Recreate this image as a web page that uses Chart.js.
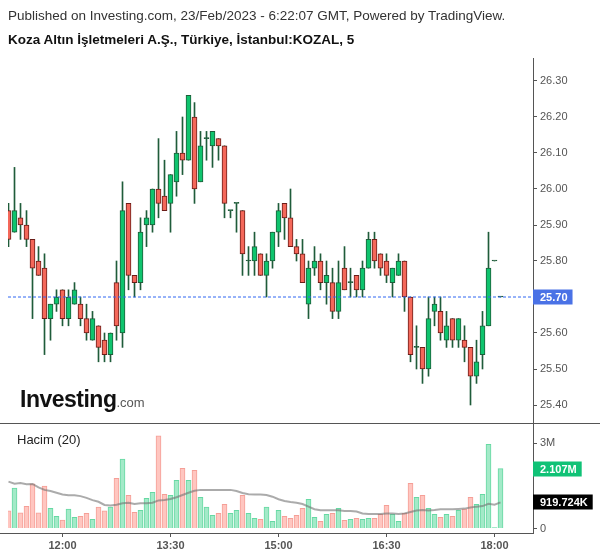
<!DOCTYPE html>
<html>
<head>
<meta charset="utf-8">
<script src="https://cdn.jsdelivr.net/npm/chart.js@4.4.0/dist/chart.umd.min.js"></script>
<style>
  html, body { margin: 0; padding: 0; background: #fff; }
  #wrap { position: relative; width: 600px; height: 558px; overflow: hidden; font-family: 'Liberation Sans', Arial, sans-serif; }
  #wrap canvas { position: absolute; left: 0; top: 0; }
  .txt { position: absolute; white-space: nowrap; z-index: 2; }
  #t1 { left: 8px; top: 8px; font-size: 13.5px; color: #333; }
  #t2 { left: 8px; top: 32px; font-size: 13.5px; font-weight: bold; color: #111; }
  #logo { left: 20px; top: 386px; font-size: 23px; font-weight: bold; color: #111; letter-spacing: -0.5px; }
  #logo span { font-size: 13px; font-weight: normal; color: #555; letter-spacing: 0; }
  #vol { left: 17px; top: 432px; font-size: 13px; color: #222; }
</style>
</head>
<body>
<div id="wrap">
  <canvas id="kozal" width="600" height="558"></canvas>
  <div class="txt" id="t1">Published on Investing.com, 23/Feb/2023 - 6:22:07 GMT, Powered by TradingView.</div>
  <div class="txt" id="t2">Koza Altın İşletmeleri A.Ş., Türkiye, İstanbul:KOZAL, 5</div>
  <div class="txt" id="logo">Investing<span>.com</span></div>
  <div class="txt" id="vol">Hacim (20)</div>
</div>
<script>
// 5-minute candles (bar 0 = 11:15)
const opens  = [25.94,25.88,25.92,25.90,25.86,25.80,25.78,25.64,25.68,25.72,25.64,25.68,25.68,25.64,25.58,25.62,25.58,25.54,25.74,25.60,
                25.96,25.76,25.74,25.90,25.90,26.00,25.98,25.96,26.02,26.10,26.08,26.20,26.02,26.14,26.12,26.14,26.12,25.94,25.96,25.94,
                25.80,25.80,25.82,25.76,25.80,25.88,25.96,25.92,25.84,25.82,25.68,25.78,25.80,25.74,25.74,25.66,25.78,25.74,25.76,25.72,
                25.78,25.86,25.82,25.80,25.74,25.76,25.80,25.70,25.56,25.56,25.50,25.66,25.66,25.58,25.64,25.58,25.58,25.56,25.48,25.54,
                25.62,25.80,25.70];
const highs  = [25.96,26.06,25.96,25.94,25.86,25.84,25.82,25.68,25.72,25.72,25.72,25.74,25.70,25.68,25.66,25.62,25.60,25.60,25.80,26.02,
                25.96,25.76,25.92,25.94,26.00,26.14,26.08,26.04,26.16,26.20,26.26,26.24,26.16,26.16,26.16,26.14,26.12,25.94,25.96,25.94,
                25.84,25.88,25.82,25.82,25.88,25.96,25.96,26.00,25.86,25.86,25.80,25.84,25.82,25.80,25.78,25.80,25.84,25.78,25.76,25.80,
                25.88,25.88,25.82,25.82,25.78,25.82,25.80,25.70,25.62,25.56,25.70,25.70,25.70,25.66,25.64,25.64,25.62,25.56,25.58,25.66,
                25.88,25.80,25.70];
const lows   = [25.84,25.88,25.86,25.84,25.64,25.76,25.54,25.58,25.66,25.62,25.62,25.68,25.62,25.58,25.58,25.52,25.52,25.52,25.58,25.56,
                25.72,25.70,25.72,25.84,25.88,25.92,25.94,25.88,25.98,26.04,26.08,25.96,26.02,26.08,26.06,26.08,25.92,25.92,25.88,25.76,
                25.76,25.76,25.76,25.70,25.78,25.84,25.86,25.84,25.80,25.74,25.64,25.76,25.72,25.68,25.64,25.64,25.72,25.70,25.70,25.70,
                25.78,25.78,25.76,25.74,25.70,25.76,25.66,25.52,25.50,25.46,25.48,25.62,25.58,25.56,25.56,25.56,25.52,25.40,25.46,25.50,
                25.62,25.80,25.70];
const closes = [25.86,25.94,25.90,25.86,25.78,25.76,25.64,25.68,25.70,25.64,25.70,25.72,25.64,25.60,25.64,25.56,25.54,25.60,25.62,25.94,
                25.76,25.74,25.88,25.92,26.00,25.96,25.94,26.04,26.10,26.08,26.26,26.00,26.12,26.14,26.16,26.12,25.96,25.94,25.96,25.82,
                25.80,25.84,25.76,25.80,25.88,25.94,25.92,25.84,25.82,25.74,25.78,25.80,25.74,25.76,25.66,25.74,25.72,25.74,25.72,25.78,
                25.86,25.80,25.78,25.76,25.78,25.80,25.70,25.54,25.56,25.50,25.64,25.68,25.60,25.62,25.58,25.64,25.56,25.48,25.52,25.62,
                25.78,25.80,25.70];
// volume in millions and its 20-bar average as drawn
const volumes = [0.62,1.42,0.55,0.78,1.57,0.55,1.49,0.71,0.43,0.30,0.68,0.39,0.43,0.53,0.32,0.75,0.62,0.75,1.77,2.44,
                 1.17,0.57,0.64,1.06,1.27,3.26,1.20,1.17,1.70,2.12,1.70,2.05,1.10,0.75,0.46,0.53,0.85,0.53,0.64,1.17,
                 0.53,0.36,0.32,0.75,0.25,0.64,0.43,0.36,0.46,0.71,1.03,0.39,0.25,0.50,0.53,0.71,0.29,0.32,0.36,0.32,
                 0.36,0.36,0.50,0.82,0.50,0.25,0.53,1.59,1.10,1.17,0.71,0.50,0.39,0.50,0.43,0.64,0.68,1.10,0.85,1.20,
                 2.96,0.01,2.107];
const volumeMA = [1.65,1.58,1.60,1.56,1.57,1.45,1.36,1.32,1.26,1.20,1.17,1.17,1.14,1.08,1.00,0.94,0.83,0.81,0.84,0.89,
                  0.91,0.86,0.89,0.89,0.91,0.99,1.00,1.04,1.10,1.18,1.26,1.33,1.36,1.36,1.36,1.36,1.36,1.36,1.32,1.25,
                  1.21,1.20,1.20,1.18,1.12,1.03,0.97,0.93,0.91,0.86,0.77,0.68,0.64,0.64,0.64,0.64,0.62,0.62,0.60,0.53,
                  0.51,0.51,0.51,0.53,0.53,0.51,0.53,0.58,0.63,0.65,0.63,0.65,0.68,0.68,0.68,0.69,0.70,0.74,0.77,0.79,
                  0.87,0.84,0.919724];
const priceTicks = [25.40,25.50,25.60,25.70,25.80,25.90,26.00,26.10,26.20,26.30];
const volumeTicks = [0, 3];
const timeTickIndex = [9, 27, 45, 63, 81];
const timeLabels = ['12:00', '13:30', '15:00', '16:30', '18:00'];

const UP = '#0fc46e', UP_EDGE = '#1f5c3a';
const DOWN = '#f4685a', DOWN_EDGE = '#6b1d18';
const WICK = '#1f5c3a';
const VOL_UP = '#a3eac8', VOL_UP_EDGE = '#66d9a3';
const VOL_DOWN = '#ffc6c0', VOL_DOWN_EDGE = '#f59f97';
const AXIS = '#555';
const LAST_LINE = '#2f66f2';

const isUp = closes.map((c, i) => c >= opens[i]);
const bodyFill = closes.map((c, i) => c > opens[i] ? UP : c < opens[i] ? DOWN : WICK);
const bodyEdge = closes.map((c, i) => c > opens[i] ? UP_EDGE : c < opens[i] ? DOWN_EDGE : WICK);

function fmtVol(v) {
  if (v >= 1) return v.toFixed(3) + 'M';
  return (v * 1000).toFixed(3) + 'K';
}

function badge(ctx, x, yc, text, bg) {
  ctx.font = 'bold 11px "Liberation Sans", Arial, sans-serif';
  const w = ctx.measureText(text).width + 12;
  ctx.fillStyle = bg;
  ctx.fillRect(x, Math.round(yc) - 7.5, w, 15);
  ctx.fillStyle = '#fff';
  ctx.textAlign = 'left';
  ctx.textBaseline = 'middle';
  ctx.fillText(text, x + 7, Math.round(yc) + 0.5);
}

const decor = {
  id: 'decor',
  afterDraw(chart) {
    const { ctx, chartArea } = chart;
    const yv = chart.scales.yv;
    ctx.save();
    ctx.strokeStyle = AXIS;
    ctx.lineWidth = 1;
    ctx.setLineDash([]);
    ctx.beginPath();
    ctx.moveTo(0, yv.top + 0.5);
    ctx.lineTo(600, yv.top + 0.5);
    ctx.moveTo(0, chartArea.bottom + 0.5);
    ctx.lineTo(chartArea.right + 1, chartArea.bottom + 0.5);
    ctx.stroke();
    const x0 = chartArea.right;
    const last = closes.length - 1;
    badge(ctx, x0, chart.scales.y.getPixelForValue(closes[last]), closes[last].toFixed(2), '#4a72e6');
    badge(ctx, x0, yv.getPixelForValue(volumes[last]), fmtVol(volumes[last]), '#10c276');
    badge(ctx, x0, yv.getPixelForValue(volumeMA[last]), fmtVol(volumeMA[last]), '#000');
    ctx.restore();
  }
};

Chart.defaults.font.family = '"Liberation Sans", Arial, sans-serif';
Chart.defaults.font.size = 11;
Chart.defaults.color = AXIS;

const fixWidth = (s) => { s.width = 67; };
const X_MIN = -0.5 / 6, X_MAX = 87.5 - 0.5 / 6;
const lastClose = closes[closes.length - 1];

new Chart(document.getElementById('kozal').getContext('2d'), {
  type: 'bar',
  data: {
    datasets: [
      {
        type: 'line',
        label: 'last',
        data: [{ x: X_MIN, y: lastClose }, { x: X_MAX, y: lastClose }],
        yAxisID: 'y',
        borderColor: LAST_LINE,
        borderWidth: 1,
        borderDash: [3, 2],
        pointRadius: 0
      },
      {
        label: 'body',
        data: opens.map((o, i) => ({ x: i, y: [o, closes[i]] })),
        yAxisID: 'y',
        backgroundColor: bodyFill,
        borderColor: bodyEdge,
        borderWidth: 1,
        borderSkipped: false,
        barThickness: 5,
        minBarLength: 1,
        grouped: false
      },
      {
        label: 'wick',
        data: highs.map((h, i) => ({ x: i, y: [lows[i], h] })),
        yAxisID: 'y',
        backgroundColor: WICK,
        borderWidth: 0,
        barThickness: 1,
        grouped: false
      },
      {
        type: 'line',
        label: 'Hacim MA',
        data: volumeMA.map((v, i) => ({ x: i, y: v })),
        yAxisID: 'yv',
        borderColor: 'rgba(115,115,115,0.6)',
        borderWidth: 2,
        pointRadius: 0,
        tension: 0
      },
      {
        label: 'Hacim',
        data: volumes.map((v, i) => ({ x: i, y: v })),
        yAxisID: 'yv',
        backgroundColor: isUp.map(u => u ? VOL_UP : VOL_DOWN),
        borderColor: isUp.map(u => u ? VOL_UP_EDGE : VOL_DOWN_EDGE),
        borderWidth: 1,
        borderSkipped: 'start',
        barThickness: 5,
        minBarLength: 1,
        grouped: false
      }
    ]
  },
  options: {
    responsive: false,
    animation: false,
    layout: { padding: { top: 58, left: 8, right: 0, bottom: 0 } },
    plugins: { legend: { display: false }, tooltip: { enabled: false } },
    scales: {
      x: {
        type: 'linear',
        offset: false,
        min: X_MIN,
        max: X_MAX,
        afterBuildTicks: (s) => { s.ticks = timeTickIndex.map(v => ({ value: v })); },
        afterFit: (s) => { s.height = 25; },
        ticks: {
          autoSkip: false,
          maxRotation: 0,
          padding: 2,
          font: { weight: 'bold' },
          callback: (v) => timeLabels[timeTickIndex.indexOf(v)]
        },
        grid: { display: true, drawOnChartArea: false, tickLength: 4, color: AXIS, offset: false },
        border: { display: false }
      },
      y: {
        type: 'linear',
        position: 'right',
        stack: 'panes',
        stackWeight: 365,
        min: 25.35,
        max: 25.70 + 239 / 360,
        afterBuildTicks: (s) => { s.ticks = priceTicks.map(v => ({ value: v })); },
        afterFit: fixWidth,
        ticks: { padding: 3, callback: (v) => v.toFixed(2) },
        grid: { display: true, drawOnChartArea: false, tickLength: 4, color: AXIS },
        border: { display: true, color: AXIS }
      },
      yv: {
        type: 'linear',
        position: 'right',
        stack: 'panes',
        stackWeight: 110,
        offset: false,
        min: 3.7148 - 110 / 28.4,
        max: 3.7148,
        afterBuildTicks: (s) => { s.ticks = volumeTicks.map(v => ({ value: v })); },
        afterFit: fixWidth,
        ticks: { padding: 3, callback: (v) => v === 0 ? '0' : v + 'M' },
        grid: { display: true, drawOnChartArea: false, tickLength: 4, color: AXIS },
        border: { display: true, color: AXIS }
      }
    }
  },
  plugins: [decor]
});
</script>
</body>
</html>
